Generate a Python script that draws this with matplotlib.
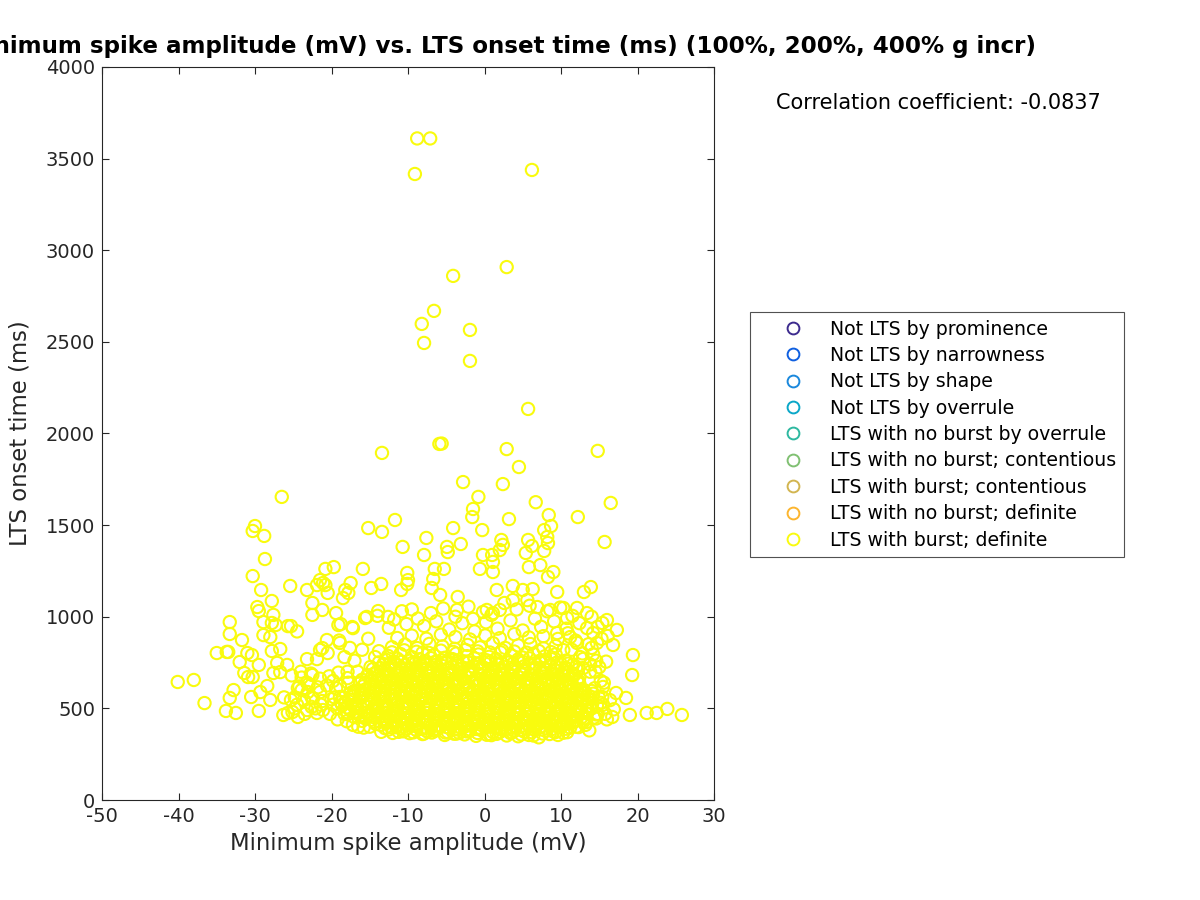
import matplotlib
matplotlib.use("Agg")
import matplotlib.pyplot as plt
from matplotlib.font_manager import FontProperties
from matplotlib.lines import Line2D
import numpy as np

# sparse tail: isolated circles
tail_amp = [
    -8.8, -7.1, -9.1, 6.2, 2.9, -4.1, -6.6, -8.2, -1.9, -7.9, -1.9, 5.7, -5.9, -5.6, -13.4, 2.9, 4.5, 14.8,
    -2.8, 2.4, -0.8, 6.7, 16.5,
    -26.5, -30.0, -30.3, -28.8, -28.7, -30.3, -25.4, -29.2, -27.8, -29.7, -29.5, -27.6, -28.9, -27.8, -27.3,
    -25.7, -25.3, -33.3, -33.3, -28.9, -28.0, -31.7,
    -15.2, -13.4, -11.7, -4.1, -0.3, -7.6, -10.7, -7.9, -4.9, -4.8, -3.1, -1.5, -1.6, -0.6, -20.8, -19.7,
    -15.9, -10.1, -10.0, -10.1, -6.5, -5.3, -6.7, -6.9, -5.8, -3.5, -10.9, -14.8, -13.5, -17.5, -18.2, -17.8,
    -18.5, -20.8, -21.5, -20.5, -23.2, -22.5, -21.2, -22.5, -19.4, -19.1, -18.8, -13.9, -15.6, -17.2, -3.6,
    -1.5, -0.2, 1.6, -0.2, 1.0, 1.1, 1.1,
    3.2, 8.4, 12.2, 7.8, 8.7, 15.7, 2.2, 2.4, 2.0, 5.7, 6.2, 5.4, 8.2, 8.3, 7.8, 5.8, 7.3, 9.0, 8.3, 3.7, 5.0,
    6.3, 9.5, 13.0, 13.9, 16.0, 15.4, 17.3, 16.1, 16.8, 19.4, 19.3, 18.5, 17.2, 19.0, 21.2, 22.5, 23.9, 25.8,
    16.7, 15.5, 15.4, 10.3, 12.1, 13.4, 10.8, 13.4, 14.2, 14.7, 11.2, 12.1, 9.5, 3.7, 5.6, 6.9, 8.6, 2.0, 1.1,
    0.3,
]
tail_onset = [
    3610, 3610, 3416, 3438, 2908, 2860, 2669, 2598, 2565, 2494, 2396, 2134, 1943, 1945, 1894, 1915, 1817, 1905,
    1735, 1724, 1654, 1625, 1621,
    1654, 1495, 1468, 1441, 1315, 1222, 1168, 1146, 1086, 1053, 1031, 1010, 971, 966, 955,
    949, 949, 971, 906, 900, 889, 873,
    1484, 1463, 1528, 1484, 1473, 1430, 1381, 1337, 1381, 1353, 1397, 1588, 1544, 1261, 1261, 1271,
    1261, 1239, 1200, 1179, 1261, 1261, 1206, 1157, 1119, 1108, 1146, 1157, 1179, 1184, 1146, 1130,
    1102, 1173, 1200, 1130, 1146, 1075, 1037, 1010, 1020, 955, 960, 1031, 993, 938, 1037,
    988, 1026, 1146, 1337, 1337, 1299, 1244,
    1533, 1555, 1544, 1473, 1495, 1408, 1419, 1392, 1364, 1419, 1386, 1348, 1435, 1402, 1359, 1271, 1282, 1244, 1217, 1168, 1146,
    1151, 1135, 1135, 1162, 982, 966, 928, 895, 846, 791, 682, 557, 584, 464, 475, 475, 497, 464,
    453, 617, 562, 1048, 1048, 1020, 993, 938, 911, 857, 889, 857, 911, 1091, 1091, 1053, 1037, 1037, 1020,
    1037,
]

# left and right wings of the main cloud, plus the thin band above it
wing_amp = [
    -35.0, -33.7, -33.5, -31.0, -30.4, -27.8, -26.7, -32.0, -29.5, -27.1, -25.8, -31.4, -30.9, -30.3, -27.6,
    -26.7, -40.1, -38.0, -36.6, -32.8, -33.3, -30.5, -29.3, -28.4, -28.0, -33.8, -32.5, -29.5, -25.3, -26.3,
    -25.7, -25.1, -24.4, -23.2, -22.6, -21.9, -21.1,
    -21.9, -21.1, -23.2, -21.9, -21.2, -22.5, -24.4, -23.1, -21.5, -23.9, -18.9, -17.3, -15.4, -12.6, -18.9,
    -20.6, -21.5, -20.5, -24.5, -19.8, -19.0, -18.3, -17.6, -24.0, -23.2, -22.6, -21.4, -20.2, -19.6, -17.9,
    -26.2, -24.8, -23.5, -19.2, -18.0, -17.2, -16.5, -15.8, -17.0, -16.0, -15.2, -14.3, -16.6, -17.8, -18.5,
    -19.2, -18.0,
    -24.8, -23.6, -22.4, -21.2, -20.0, -18.8, -24.2, -23.0, -21.8, -20.6, -19.4, -25.2, -23.9, -22.7, -21.5,
    -20.3, -19.1, -17.9, -24.5, -22.1, -19.8, -18.3,
    12.5, 13.8, 14.5, 15.2, 13.0, 14.1, 15.5, 11.6, 12.3, 13.4, 14.8, 16.0, 11.8, 13.2, 16.9, 15.9, 14.0,
    12.9, 11.4, 10.6, 13.7, 10.8, 9.6,
    12.0, 13.3, 14.6, 15.8, 11.3, 12.7, 14.0, 15.2, 16.4, 11.9, 13.1, 14.4, 15.6, 12.4, 13.8, 15.0, 11.6,
    12.9, 14.2,
    -14.0, -12.5, -11.8, -10.8, -10.2, -9.5, -8.7, -7.9, -7.0, -6.3, -5.4, -4.6, -3.8, -2.9, -2.1, -1.3, 0.2,
    0.9, 1.7, 2.6, 3.4, 4.2, 5.0, 5.9, 6.6, 7.4, 8.2, 9.1, 9.9, 10.7, 11.5, 12.4, 14.0, 14.8, 15.3, 13.6,
    12.8, 14.6, 11.9, 10.9,
]
wing_onset = [
    802, 808, 808, 802, 791, 813, 824, 753, 737, 748, 737, 693, 671, 671, 693,
    698, 644, 655, 529, 600, 557, 562, 589, 622, 546, 486, 475, 486, 546, 464,
    475, 480, 453, 491, 508, 475, 491,
    1173, 1184, 769, 769, 829, 682, 611, 589, 589, 600, 622, 944, 999, 999, 857,
    873, 819, 802, 920, 650, 870, 780, 830, 700, 640, 560, 520, 470, 560, 700,
    560, 500, 470, 440, 430, 410, 400, 395, 760, 820, 880, 780, 700, 640, 560,
    500, 480,
    560, 545, 555, 540, 550, 535, 620, 632, 615, 625, 610, 680, 668, 690, 662,
    675, 695, 665, 520, 500, 520, 470,
    780, 740, 700, 650, 600, 560, 520, 690, 650, 510, 470, 440, 430, 410, 495, 755, 830,
    720, 820, 760, 380, 370, 355,
    400, 425, 445, 470, 455, 480, 500, 530, 545, 560, 585, 610, 640, 670, 700, 725, 740,
    770, 795,
    1005, 940, 985, 1030, 960, 1040, 990, 950, 1020, 975, 1045, 930, 1000, 965, 1055, 920, 970,
    1010, 935, 1075, 980, 1040, 925, 1060, 990, 945, 1030, 975, 1050, 935, 1005, 965, 1000, 945, 880, 850,
    800, 760, 870, 910,
]

# dense core, one line per band of onset time
core_amp = [
    -11.2, -9.8, -8.1, -6.9, -5.2, -4.0, -2.6, -1.1, 0.3, 1.6, 2.9, 4.4, 5.8, 7.1, 8.5, -7.5, -3.3, 0.9, 3.6, 6.4,
    -13.5, -12.0, -10.6, -9.3, -7.9, -6.5, -5.1, -3.7, -2.3, -0.9, 0.6, 2.0, 3.4, 4.8, 6.2, 7.6, 9.0, 10.3,
    -12.5, -10.5, -8.9, -7.4, -6.1, -4.8, -3.4, -2.0, -0.4, 1.1, 2.3, 3.9, 5.2, 6.6, 7.9, 9.3,
    -15.0, -13.0, -11.5, -10.2, -8.9, -7.6, -6.3, -5.0, -3.7, -2.4, -1.1, 0.2, 1.5, 2.8, 4.1, 5.4, 6.7, 8.0, 9.4, 10.7, 12.3,
    -13.6, -12.2, -10.9, -9.5, -8.3, -7.0, -5.8, -4.5, -3.2, -1.9, -0.6, 0.8, 2.1, 3.5, 4.8, 6.0, 7.4, 8.8, 10.1, 11.2,
    -14.2, -12.8, -11.4, -10.1, -8.8, -7.5, -6.2, -4.9, -3.6, -2.2, -0.9, 0.5, 1.9, 3.2, 4.5, 5.9, 7.2, 8.6, 9.9, 11.5,
    -16.0, -14.4, -13.1, -11.8, -10.5, -9.2, -7.9, -6.6, -5.3, -4.0, -2.7, -1.4, -0.1, 1.2, 2.5, 3.8, 5.1, 6.4, 7.7, 9.0, 10.3, 11.6, 12.9,
    -14.8, -13.1, -11.6, -10.3, -9.0, -7.6, -6.3, -5.0, -3.7, -2.4, -1.0, 0.2, 1.5, 2.8, 4.1, 5.5, 6.8, 8.1, 9.4, 10.8, 12.0,
    -17.0, -15.6, -14.3, -13.0, -11.7, -10.4, -9.1, -7.8, -6.5, -5.2, -3.9, -2.6, -1.3, 0.0, 1.3, 2.6, 3.9, 5.1, 6.4, 7.7, 9.1, 10.4, 11.7, 13.0, 14.3,
    -16.2, -15.0, -13.8, -12.4, -11.0, -9.7, -8.5, -7.2, -5.9, -4.6, -3.3, -2.0, -0.7, 0.6, 1.9, 3.2, 4.5, 5.8, 7.2, 8.6, 9.9, 11.3, 12.7,
    -17.9, -16.5, -15.2, -13.9, -12.6, -11.3, -10.0, -8.7, -7.4, -6.1, -4.8, -3.5, -2.2, -0.9, 0.4, 1.7, 3.0, 4.3, 5.6, 6.9, 8.2, 9.5, 10.8, 12.1, 13.4, 14.6,
    -16.8, -15.5, -14.2, -12.9, -11.6, -10.2, -8.9, -7.6, -6.2, -4.9, -3.6, -2.3, -0.9, 0.4, 1.7, 3.0, 4.3, 5.7, 7.0, 8.3, 9.7, 11.0, 12.3,
    -17.5, -16.1, -14.6, -13.3, -12.0, -10.6, -9.2, -7.9, -6.5, -5.2, -3.9, -2.6, -1.2, 0.1, 1.4, 2.7, 4.0, 5.4, 6.7, 8.0, 9.3, 10.7, 12.0, 13.4,
    -18.0, -16.6, -15.3, -14.0, -12.7, -11.3, -10.0, -8.7, -7.4, -6.0, -4.7, -3.4, -2.0, -0.7, 0.6, 1.9, 3.3, 4.6, 5.9, 7.2, 8.6, 9.9, 11.2, 12.5, 13.9,
    -18.6, -17.0, -15.7, -14.4, -13.0, -11.7, -10.4, -9.1, -7.8, -6.4, -5.1, -3.8, -2.5, -1.1, 0.2, 1.5, 2.8, 4.1, 5.4, 6.8, 8.1, 9.4, 10.8, 12.1, 13.4, 14.7,
    -18.2, -16.8, -15.4, -14.1, -12.7, -11.4, -10.0, -8.7, -7.3, -6.0, -4.7, -3.3, -2.0, -0.6, 0.7, 2.1, 3.4, 4.7, 6.1, 7.4, 8.8, 10.1, 11.5, 12.8, 14.1,
    -17.7, -16.3, -14.9, -13.6, -12.2, -10.9, -9.5, -8.2, -6.8, -5.5, -4.1, -2.8, -1.4, -0.1, 1.3, 2.6, 4.0, 5.3, 6.7, 8.0, 9.4, 10.7, 12.1, 13.5,
    -18.9, -17.4, -16.0, -14.7, -13.3, -12.0, -10.7, -9.3, -8.0, -6.6, -5.3, -4.0, -2.6, -1.3, 0.1, 1.4, 2.8, 4.1, 5.5, 6.8, 8.2, 9.5, 10.9, 12.2, 13.6, 14.9,
    -17.1, -15.8, -14.4, -13.0, -11.7, -10.3, -9.0, -7.6, -6.3, -4.9, -3.6, -2.2, -0.9, 0.5, 1.8, 3.1, 4.5, 5.8, 7.2, 8.5, 9.8, 11.2, 12.6,
    -17.5, -16.2, -14.9, -13.6, -12.3, -11.0, -9.7, -8.4, -7.0, -5.7, -4.4, -3.0, -1.7, -0.4, 0.9, 2.3, 3.6, 4.9, 6.2, 7.6, 8.9, 10.2, 11.6, 12.9, 14.2,
    -17.0, -15.7, -14.3, -13.0, -11.6, -10.3, -8.9, -7.6, -6.2, -4.9, -3.5, -2.2, -0.8, 0.5, 1.9, 3.2, 4.6, 5.9, 7.3, 8.6, 10.0, 11.3, 12.7, 14.0,
    -16.5, -15.0, -13.6, -12.3, -10.9, -9.6, -8.2, -6.9, -5.5, -4.2, -2.8, -1.5, -0.1, 1.2, 2.6, 3.9, 5.3, 6.6, 8.0, 9.3, 10.6, 12.0,
    -15.9, -14.5, -13.1, -11.8, -10.4, -9.1, -7.7, -6.4, -5.0, -3.7, -2.3, -1.0, 0.4, 1.7, 3.1, 4.4, 5.8, 7.1, 8.5, 9.8, 11.2,
    -15.6, -14.2, -12.8, -11.5, -10.1, -8.8, -7.4, -6.1, -4.7, -3.4, -2.0, -0.7, 0.7, 2.0, 3.4, 4.7, 6.1, 7.4, 8.8, 10.1, 11.4,
    -16.3, -14.9, -13.5, -12.2, -10.8, -9.4, -8.1, -6.7, -5.3, -4.0, -2.6, -1.3, 0.1, 1.5, 2.8, 4.2, 5.5, 6.9, 8.3, 9.6, 11.0, 12.4,
    -16.0, -14.7, -13.4, -12.1, -10.8, -9.5, -8.1, -6.8, -5.5, -4.1, -2.8, -1.4, -0.1, 1.3, 2.6, 4.0, 5.3, 6.7, 8.0, 9.4, 10.7, 12.1,
    -14.8, -13.3, -11.9, -10.6, -9.2, -7.9, -6.5, -5.2, -3.8, -2.5, -1.1, 0.2, 1.6, 2.9, 4.3, 5.6, 7.0, 8.3, 9.7, 11.0,
    -15.3, -13.9, -12.6, -11.2, -9.9, -8.5, -7.2, -5.8, -4.5, -3.1, -1.8, -0.4, 0.9, 2.3, 3.6, 5.0, 6.3, 7.7, 9.0, 10.4, 11.7,
    -14.4, -12.9, -11.5, -10.2, -8.8, -7.5, -6.1, -4.8, -3.4, -2.1, -0.7, 0.6, 2.0, 3.3, 4.7, 6.0, 7.4, 8.7, 10.1,
    -14.0, -12.5, -11.1, -9.8, -8.4, -7.1, -5.7, -4.4, -3.0, -1.7, -0.3, 1.1, 2.4, 3.8, 5.1, 6.5, 7.8, 9.2, 10.5,
    -14.6, -13.1, -11.7, -10.3, -8.9, -7.5, -6.1, -4.7, -3.3, -1.9, -0.5, 0.9, 2.3, 3.7, 5.1, 6.5, 7.9, 9.3, 10.7, 12.1,
    -14.9, -13.6, -12.2, -10.9, -9.6, -8.2, -6.9, -5.5, -4.2, -2.9, -1.5, -0.2, 1.2, 2.5, 3.9, 5.2, 6.6, 7.9, 9.3, 10.6, 12.0,
    -13.2, -11.8, -10.4, -9.0, -7.7, -6.3, -5.0, -3.6, -2.3, -0.9, 0.4, 1.8, 3.1, 4.5, 5.8, 7.2, 8.6, 9.9,
    -13.8, -12.3, -10.8, -9.4, -7.9, -6.5, -5.0, -3.6, -2.1, -0.7, 0.8, 2.2, 3.7, 5.1, 6.6, 8.0, 9.5, 10.9,
    -12.9, -11.4, -9.9, -8.5, -7.0, -5.6, -4.2, -2.8, -1.3, 0.1, 1.5, 3.0, 4.4, 5.9, 7.3, 8.8,
    -12.6, -11.0, -9.5, -8.1, -6.6, -5.2, -3.7, -2.3, -0.8, 0.6, 2.1, 3.5, 5.0, 6.4, 7.9, 9.3,
    -13.8, -12.1, -10.5, -8.9, -7.3, -5.7, -4.1, -2.5, -0.9, 0.7, 2.3, 3.9, 5.5, 7.1, 8.7, 10.3,
    -12.1, -10.4, -8.8, -7.2, -5.5, -3.9, -2.2, -0.6, 1.1, 2.7, 4.4, 6.0, 7.7, 9.3,
    -11.4, -9.5, -7.6, -5.7, -3.8, -1.9, 0.1, 2.0, 3.9, 5.8, 7.7, 9.6,
]
core_onset = [
    372, 365, 360, 368, 355, 362, 358, 350, 356, 361, 352, 348, 355, 342, 360, 375, 366, 354, 370, 352,
    372, 366, 375, 369, 363, 377, 368, 362, 374, 366, 360, 371, 365, 358, 370, 363, 374, 367,
    385, 378, 382, 374, 388, 371, 384, 376, 381, 370, 386, 377, 373, 383, 379, 371,
    400, 392, 397, 389, 403, 394, 386, 399, 391, 404, 388, 397, 393, 386, 402, 390, 398, 392, 405, 389, 398,
    410, 398, 392, 405, 388, 396, 402, 390, 399, 385, 394, 401, 388, 396, 383, 391, 399, 387, 402, 395,
    415, 421, 409, 418, 412, 424, 407, 416, 420, 411, 423, 408, 417, 413, 422, 406, 419, 414, 410, 421,
    432, 427, 435, 429, 424, 433, 428, 436, 426, 431, 425, 434, 429, 423, 432, 427, 435, 430, 424, 433, 428, 431, 426,
    438, 425, 432, 420, 436, 428, 441, 424, 433, 419, 430, 437, 422, 434, 426, 440, 421, 431, 427, 418, 436,
    452, 446, 449, 441, 455, 444, 450, 439, 453, 447, 442, 456, 445, 451, 440, 454, 446, 450, 443, 457, 448, 441, 453, 446, 450,
    462, 470, 455, 466, 451, 460, 473, 457, 464, 449, 468, 455, 462, 471, 452, 460, 467, 454, 463, 470, 458, 465, 452,
    468, 473, 466, 471, 475, 467, 472, 465, 474, 469, 464, 473, 468, 475, 466, 471, 464, 473, 469, 466, 474, 468, 471, 465, 472, 467,
    480, 475, 484, 477, 486, 473, 482, 476, 485, 479, 474, 483, 478, 487, 474, 481, 476, 484, 472, 480, 486, 476, 482,
    488, 500, 493, 505, 484, 498, 490, 507, 486, 496, 502, 489, 497, 484, 501, 492, 506, 488, 497, 483, 502, 490, 499, 487,
    506, 501, 509, 503, 498, 507, 502, 510, 500, 505, 498, 508, 503, 510, 499, 506, 501, 509, 504, 498, 507, 502, 508, 500, 505,
    516, 510, 519, 512, 508, 517, 513, 520, 509, 515, 511, 518, 507, 514, 520, 510, 516, 508, 518, 512, 515, 509, 519, 513, 511, 517,
    534, 522, 540, 528, 517, 535, 526, 543, 521, 532, 538, 519, 533, 527, 545, 520, 536, 529, 542, 518, 531, 537, 525, 540, 528,
    549, 555, 544, 552, 546, 557, 543, 550, 556, 545, 553, 541, 548, 554, 546, 552, 543, 557, 547, 551, 544, 556, 549, 553,
    562, 567, 560, 565, 571, 563, 568, 561, 566, 572, 562, 569, 560, 565, 571, 563, 568, 561, 566, 570, 562, 567, 560, 564, 569, 563,
    566, 575, 558, 570, 553, 563, 578, 556, 569, 561, 574, 552, 566, 579, 557, 568, 560, 573, 555, 567, 576, 559, 571,
    584, 578, 587, 580, 576, 585, 579, 588, 581, 577, 586, 583, 579, 585, 577, 582, 588, 579, 584, 576, 587, 581, 578, 585, 580,
    596, 601, 594, 599, 604, 595, 600, 593, 598, 603, 595, 601, 596, 603, 594, 599, 605, 596, 601, 594, 600, 597, 603, 595,
    598, 607, 592, 612, 601, 589, 609, 596, 604, 588, 613, 599, 591, 606, 594, 611, 598, 587, 605, 593, 610, 600,
    620, 615, 623, 612, 619, 626, 614, 621, 617, 625, 613, 620, 616, 624, 611, 622, 618, 614, 623, 617, 620,
    638, 626, 642, 631, 647, 624, 637, 645, 629, 640, 622, 636, 648, 630, 641, 625, 639, 633, 646, 628, 637,
    642, 636, 645, 639, 634, 643, 637, 646, 640, 635, 644, 638, 633, 642, 636, 645, 639, 634, 643, 637, 641, 635,
    656, 650, 659, 653, 648, 657, 651, 660, 654, 649, 658, 652, 647, 656, 650, 659, 653, 648, 657, 651, 655, 649,
    668, 677, 661, 673, 684, 659, 670, 679, 664, 676, 659, 672, 681, 665, 674, 660, 678, 667, 671, 682,
    681, 676, 685, 679, 674, 683, 677, 686, 680, 675, 684, 678, 673, 682, 676, 685, 679, 674, 683, 677, 681,
    690, 684, 693, 687, 682, 695, 686, 691, 683, 694, 688, 681, 692, 686, 690, 684, 695, 689, 685,
    702, 713, 698, 709, 719, 701, 711, 696, 715, 704, 720, 699, 708, 716, 703, 712, 697, 710, 706,
    714, 709, 718, 712, 707, 716, 710, 719, 713, 708, 717, 711, 706, 715, 709, 718, 712, 707, 716, 710,
    726, 720, 730, 723, 718, 728, 722, 731, 725, 719, 729, 723, 717, 727, 721, 730, 724, 718, 728, 722, 726,
    742, 753, 737, 748, 758, 739, 750, 734, 755, 744, 760, 738, 749, 757, 741, 752, 736, 747,
    751, 746, 755, 749, 744, 753, 747, 756, 750, 745, 754, 748, 743, 752, 746, 755, 749, 744,
    765, 771, 760, 768, 774, 762, 769, 757, 772, 764, 770, 759, 767, 773, 761, 768,
    786, 797, 780, 803, 789, 776, 799, 785, 794, 781, 806, 788, 777, 798, 784, 795,
    812, 806, 817, 809, 803, 815, 808, 819, 811, 805, 816, 810, 804, 813, 807, 818,
    834, 848, 829, 852, 838, 825, 846, 833, 856, 830, 844, 851, 828, 840,
    884, 897, 880, 902, 889, 876, 898, 883, 905, 887, 894, 879,
]

categories = [
    "Not LTS by prominence",
    "Not LTS by narrowness",
    "Not LTS by shape",
    "Not LTS by overrule",
    "LTS with no burst by overrule",
    "LTS with no burst; contentious",
    "LTS with burst; contentious",
    "LTS with no burst; definite",
    "LTS with burst; definite",
]
category_colors = [
    "#3d2b8e", "#0f5fe0", "#1a88dc", "#0aa7c8", "#2db8a0",
    "#80c072", "#d2b550", "#fcb52e", "#f9fb0e",
]
corr_label = "Correlation coefficient: -0.0837"
title = "Minimum spike amplitude (mV) vs. LTS onset time (ms) (100%, 200%, 400% g incr)"

amp = np.array(tail_amp + wing_amp + core_amp)
onset = np.array(tail_onset + wing_onset + core_onset)

dark = "#262626"
plt.rcParams["font.family"] = "DejaVu Sans"
plt.rcParams["axes.unicode_minus"] = False

fig = plt.figure(figsize=(12, 9), dpi=100)
ax = fig.add_axes([0.085, 0.1111, 0.51, 0.8145])

ax.scatter(amp, onset, s=78, facecolors="none", edgecolors=category_colors[-1], linewidths=1.5)

ax.set_xlim(-50, 30)
ax.set_ylim(0, 4000)
ax.set_xticks(np.arange(-50, 31, 10))
ax.set_yticks(np.arange(0, 4001, 500))
ax.tick_params(direction="in", length=5, width=0.8, top=True, right=True,
               labelsize=14, colors=dark, pad=5)
for sp in ax.spines.values():
    sp.set_color(dark)
    sp.set_linewidth(0.8)

ax.set_xlabel("Minimum spike amplitude (mV)", fontsize=16.4, color=dark, labelpad=4)
ax.set_ylabel("LTS onset time (ms)", fontsize=16.4, color=dark, labelpad=10)

# the title runs off the left edge in the original, anchored by its right end
fig.text(0.8633, 0.948, title, fontsize=16.6, fontweight="bold", color="black",
         ha="right", va="center")

normal = FontProperties(family="DejaVu Sans", size=13.6)
fig.text(0.6467, 0.8856, corr_label, fontsize=15, color="black", va="center")

handles = [Line2D([], [], ls="none", marker="o", markersize=8.5, markerfacecolor="none",
                  markeredgecolor=c, markeredgewidth=1.4) for c in category_colors]
leg = fig.legend(handles, categories, loc="upper left", bbox_to_anchor=(0.625, 0.6533),
                 prop=normal, frameon=True, fancybox=False, edgecolor=dark,
                 labelspacing=0.39, handlelength=3.76, handletextpad=0.08, borderpad=0.4,
                 borderaxespad=0.0)
leg.get_frame().set_linewidth(0.8)

fig.savefig("out.png", dpi=100)
